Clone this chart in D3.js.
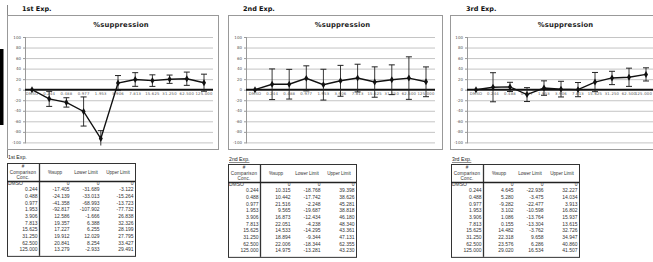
<!DOCTYPE html>
<html>
<head>
<meta charset="utf-8">
<script src="https://cdn.jsdelivr.net/npm/d3@7"></script>
<style>
  body { margin: 0; background: #fff; }
  svg { display: block; }
</style>
</head>
<body>
<div id="vis"></div>
<script>
// ---------- data ----------
const concs = ["DMSO", "0.244", "0.488", "0.977", "1.953", "3.906", "7.813", "15.625", "31.250", "62.500", "125.000"];
const yTicks = [100, 80, 60, 40, 20, 0, -20, -40, -60, -80, -100];

const supp1 = [0, -17.405, -24.139, -41.358, -92.817, 12.586, 19.357, 17.227, 19.912, 20.841, 13.279];
const lower1 = [0, -31.689, -33.013, -68.993, -107.902, -1.666, 6.388, 6.255, 12.029, 8.254, -2.933];
const upper1 = [0, -3.122, -15.264, -13.723, -77.732, 26.838, 32.326, 28.199, 27.795, 33.427, 29.491];

const supp2 = [0, 10.315, 10.442, 21.516, 9.565, 16.873, 22.051, 14.533, 18.894, 22.006, 14.975];
const lower2 = [0, -18.768, -17.742, -2.248, -19.687, -12.434, -4.238, -14.295, -9.344, -18.344, -13.281];
const upper2 = [0, 39.398, 38.626, 45.281, 38.818, 46.180, 48.340, 43.361, 47.131, 62.355, 43.230];

const supp3 = [0, 4.645, 5.280, -9.282, 3.102, 1.086, 0.155, 14.482, 22.318, 23.576, 29.020];
const lower3 = [0, -22.936, -3.475, -22.477, -10.598, -13.764, -13.304, -3.762, 9.658, 6.286, 16.534];
const upper3 = [0, 32.227, 14.034, 3.913, 16.802, 15.937, 13.615, 32.726, 34.947, 40.860, 41.507];

const expTitles = ["1st Exp.", "2nd Exp.", "3rd Exp."];
const tableTitles = ["1st Exp.", "2nd Exp.", "3rd Exp."];
const tableHeaders = ["#\nComparison\nConc.", "%supp", "Lower Limit", "Upper Limit"];

// ---------- layout ----------
const W = 653, H = 262;
const Y_TOP = 37, Y_BOT = 142.4;

const panels = [
  { title: expTitles[0], supp: supp1, lo: lower1, hi: upper1,
    box: [7, 15, 218, 149], titleX: 22, axisX: 25, plotR: 213, p0: 32, p1: 204,
    table: { x: 7, y: 163, label: tableTitles[0], labelY: 159 } },
  { title: expTitles[1], supp: supp2, lo: lower2, hi: upper2,
    box: [228, 15, 442, 149], titleX: 243, axisX: 246, plotR: 435, p0: 255, p1: 426,
    table: { x: 228, y: 164, label: tableTitles[1], labelY: 161 } },
  { title: expTitles[2], supp: supp3, lo: lower3, hi: upper3,
    box: [450, 15, 660, 149], titleX: 466, axisX: 467, plotR: 660, p0: 476, p1: 646,
    table: { x: 451, y: 164, label: tableTitles[2], labelY: 161 } }
];

const svg = d3.select("#vis").append("svg").attr("width", W).attr("height", H);

// left black bar + long left border of first panel
svg.append("rect").attr("x", 0).attr("y", 49).attr("width", 3.5).attr("height", 76).attr("fill", "#000");
svg.append("line").attr("x1", 7.5).attr("x2", 7.5).attr("y1", 5).attr("y2", 158)
  .attr("stroke", "#888").attr("stroke-width", 1);

const y = d3.scaleLinear().domain([-100, 100]).range([Y_BOT, Y_TOP]);

panels.forEach((p, pi) => {
  const g = svg.append("g");
  const [bx0, by0, bx1, by1] = p.box;

  // frame
  g.append("rect")
    .attr("x", bx0 + 0.5).attr("y", by0 + 0.5)
    .attr("width", bx1 - bx0).attr("height", by1 - by0)
    .attr("fill", "#fff").attr("stroke", "#999").attr("stroke-width", 1);

  // experiment title
  g.append("text")
    .attr("x", p.titleX).attr("y", 11)
    .attr("font-family", "DejaVu Sans").attr("font-weight", "bold")
    .attr("font-size", 6.5).attr("fill", "#111")
    .text(p.title);

  // chart title
  g.append("text")
    .attr("x", (p.axisX + p.plotR) / 2 + 2).attr("y", 27)
    .attr("text-anchor", "middle")
    .attr("font-family", "DejaVu Sans").attr("font-weight", "bold")
    .attr("font-size", 6.8).attr("letter-spacing", 0.2).attr("fill", "#222")
    .text("%suppression");

  const x = d3.scalePoint().domain(concs).range([p.p0, p.p1]);

  // gridlines
  g.selectAll("line.grid")
    .data(yTicks.filter(d => d !== 0))
    .join("line")
    .attr("class", "grid")
    .attr("x1", p.axisX).attr("x2", p.plotR)
    .attr("y1", d => y(d) + 0.5).attr("y2", d => y(d) + 0.5)
    .attr("stroke", "#c4c4c4").attr("stroke-width", 1);

  // y axis line
  g.append("line")
    .attr("x1", p.axisX + 0.5).attr("x2", p.axisX + 0.5)
    .attr("y1", Y_TOP).attr("y2", Y_BOT + 1)
    .attr("stroke", "#999");

  // y tick labels
  g.selectAll("text.ytick")
    .data(yTicks)
    .join("text")
    .attr("class", "ytick")
    .attr("x", p.axisX - 4).attr("y", d => y(d) + 1.5)
    .attr("text-anchor", "end")
    .attr("font-family", "DejaVu Sans").attr("font-size", 4)
    .attr("fill", "#555")
    .text(d => d);
  g.selectAll("line.ytickmark")
    .data(yTicks)
    .join("line")
    .attr("class", "ytickmark")
    .attr("x1", p.axisX - 2).attr("x2", p.axisX)
    .attr("y1", d => y(d) + 0.5).attr("y2", d => y(d) + 0.5)
    .attr("stroke", "#999");

  // zero line
  g.append("line")
    .attr("x1", p.axisX).attr("x2", p.plotR)
    .attr("y1", y(0)).attr("y2", y(0))
    .attr("stroke", "#111").attr("stroke-width", 2);

  // x tick labels (kept inside the window at the right edge)
  g.selectAll("text.xtick")
    .data(concs)
    .join("text")
    .attr("class", "xtick")
    .attr("x", d => x(d)).attr("y", y(0) + 5)
    .attr("text-anchor", "middle")
    .attr("font-family", "DejaVu Sans").attr("font-size", 3.8)
    .attr("letter-spacing", 0.2)
    .attr("fill", "#555")
    .text(d => d)
    .each(function (d) {
      const half = this.getComputedTextLength() / 2;
      if (x(d) + half > W - 1) {
        d3.select(this).attr("text-anchor", "end").attr("x", W - 1);
      }
    });

  const clipId = "clip" + pi;
  g.append("clipPath").attr("id", clipId)
    .append("rect").attr("x", p.axisX).attr("y", Y_TOP - 3)
    .attr("width", p.plotR - p.axisX).attr("height", Y_BOT - Y_TOP + 6);
  const plot = g.append("g").attr("clip-path", "url(#" + clipId + ")");

  const idx = d3.range(concs.length);

  // error bars
  plot.selectAll("line.err")
    .data(idx)
    .join("line")
    .attr("class", "err")
    .attr("x1", i => x(concs[i])).attr("x2", i => x(concs[i]))
    .attr("y1", i => y(p.lo[i])).attr("y2", i => y(p.hi[i]))
    .attr("stroke", "#222").attr("stroke-width", 0.9);
  ["lo", "hi"].forEach(k => {
    plot.selectAll("line.cap" + k)
      .data(idx.filter(i => i > 0))
      .join("line")
      .attr("class", "cap" + k)
      .attr("x1", i => x(concs[i]) - 3).attr("x2", i => x(concs[i]) + 3)
      .attr("y1", i => y(p[k][i])).attr("y2", i => y(p[k][i]))
      .attr("stroke", "#222").attr("stroke-width", 1);
  });

  // line
  plot.append("path")
    .datum(idx)
    .attr("fill", "none").attr("stroke", "#111").attr("stroke-width", 1.4)
    .attr("d", d3.line().x(i => x(concs[i])).y(i => y(p.supp[i])));

  // markers
  plot.selectAll("path.mk")
    .data(idx)
    .join("path")
    .attr("class", "mk")
    .attr("transform", i => "translate(" + x(concs[i]) + "," + y(p.supp[i]) + ")")
    .attr("d", d3.symbol().type(d3.symbolDiamond).size(14))
    .attr("fill", "#111");

  // ---------- table ----------
  const t = p.table;
  const tg = svg.append("g").attr("transform", "translate(" + t.x + "," + t.y + ")");
  const colW = [32, 32, 30, 34];
  const colX = [0];
  colW.forEach((w, i) => colX.push(colX[i] + w));
  const tW = colX[colX.length - 1];
  const headH = 18.5, rowH = 6.67;
  const tH = headH + concs.length * rowH + 1;

  svg.append("text")
    .attr("x", t.x + 1).attr("y", t.labelY)
    .attr("font-family", "Liberation Sans").attr("font-size", 5.2)
    .attr("fill", "#222")
    .attr("text-decoration", pi > 0 ? "underline" : null)
    .text(t.label);

  tg.append("rect").attr("x", 0.5).attr("y", 0.5).attr("width", tW).attr("height", tH)
    .attr("fill", "none").attr("stroke", "#333").attr("stroke-width", 1);
  tg.append("line").attr("x1", colX[1] + 0.5).attr("x2", colX[1] + 0.5)
    .attr("y1", 0).attr("y2", tH)
    .attr("stroke", "#333").attr("stroke-width", 1.3);
  tg.append("line").attr("x1", 0).attr("x2", tW)
    .attr("y1", headH).attr("y2", headH)
    .attr("stroke", "#222").attr("stroke-width", 1.3);

  // headers
  const hdrLines = tableHeaders[0].split("\n");
  hdrLines.forEach((s, i) => {
    tg.append("text")
      .attr("x", colW[0] / 2).attr("y", 5 + i * 5.5)
      .attr("text-anchor", "middle")
      .attr("font-family", "Liberation Sans").attr("font-size", 4.6)
      .attr("letter-spacing", 0.15)
      .attr("fill", "#333").text(s);
  });
  tableHeaders.slice(1).forEach((s, i) => {
    tg.append("text")
      .attr("x", colX[i + 1] + colW[i + 1] / 2).attr("y", 10.5)
      .attr("text-anchor", "middle")
      .attr("font-family", "Liberation Sans").attr("font-size", 4.6)
      .attr("fill", "#333").text(s);
  });

  const fmt = v => (v === 0 ? "0" : d3.format(".3f")(v).replace("−", "-"));
  const rows = idx.map(i => [concs[i], p.supp[i], p.lo[i], p.hi[i]]);
  rows.forEach((r, ri) => {
    const yy = headH + 3 + ri * rowH;
    r.forEach((v, ci) => {
      const first = ci === 0;
      const isDmso = first && ri === 0;
      tg.append("text")
        .attr("x", isDmso ? 1 : colX[ci + 1] - 1.5)
        .attr("y", yy)
        .attr("text-anchor", isDmso ? "start" : "end")
        .attr("font-family", "Liberation Sans").attr("font-size", 5)
        .attr("fill", "#333")
        .text(first ? v : fmt(v));
    });
  });
});
</script>
</body>
</html>
